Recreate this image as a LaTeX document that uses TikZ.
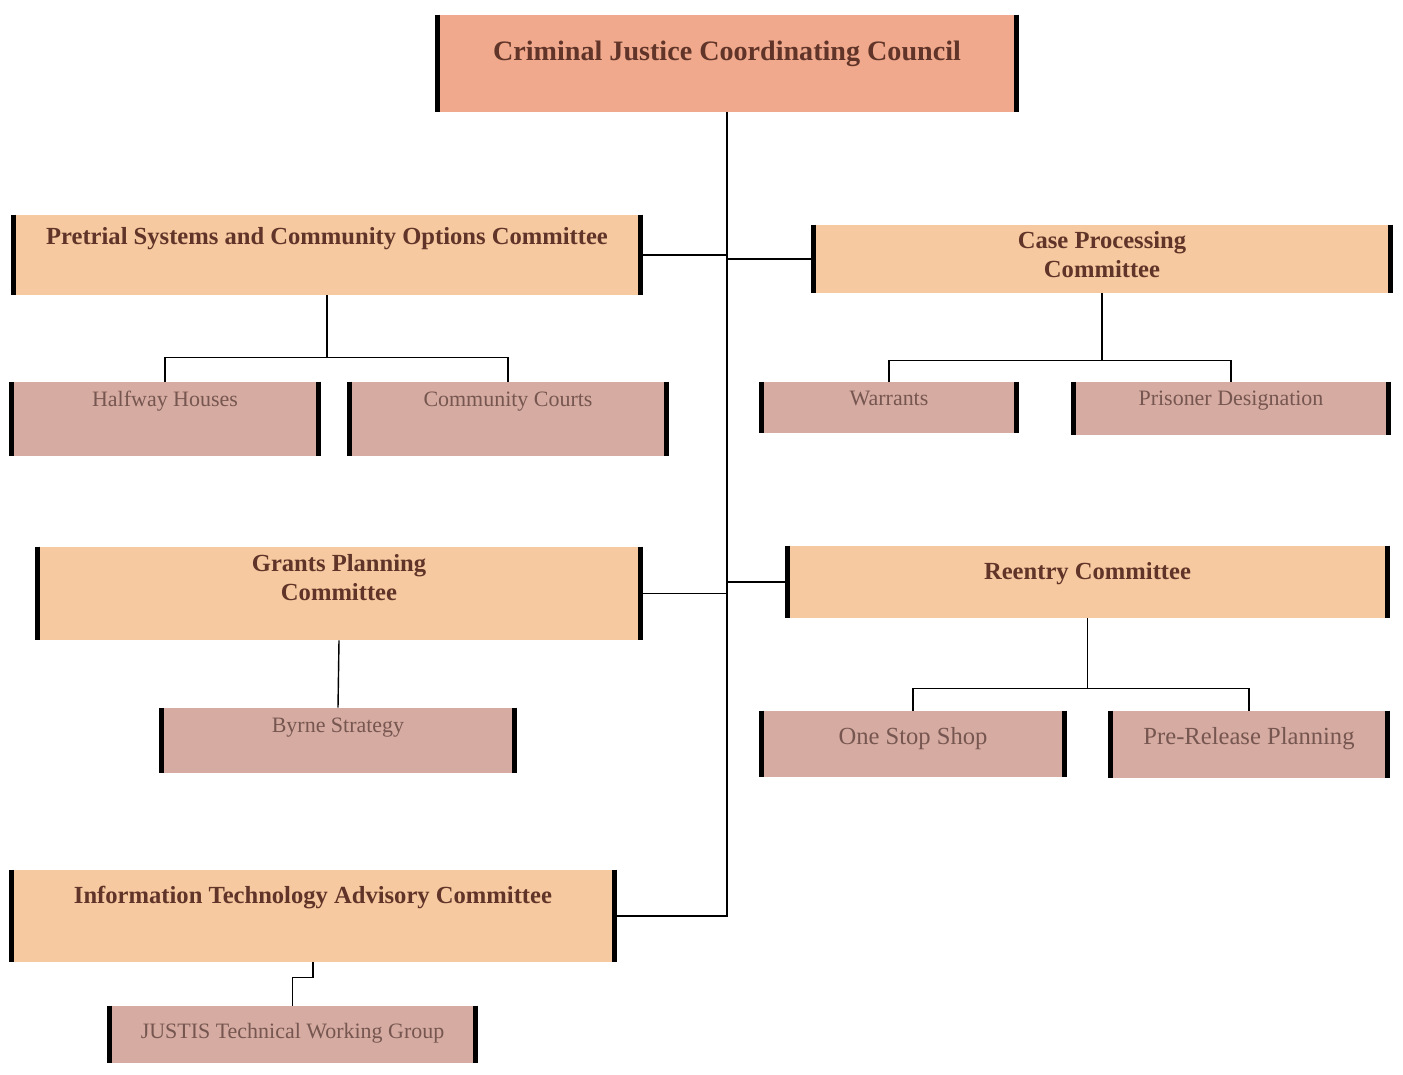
\documentclass[tikz,border=0pt]{standalone}
\usepackage{fontspec}
\setmainfont{Liberation Serif}
\usetikzlibrary{calc}
\definecolor{councilfill}{RGB}{240,169,140}
\definecolor{committeefill}{RGB}{246,201,160}
\definecolor{groupfill}{RGB}{214,171,161}
\definecolor{titletext}{RGB}{96,52,40}
\definecolor{grouptext}{RGB}{118,86,80}
\tikzstyle{council} = [rectangle, fill=councilfill, inner sep=0pt, text height=0.3cm, text=titletext, font=\fontsize{16}{19}\selectfont\bfseries, align=center]
\tikzstyle{committee} = [rectangle, fill=committeefill, inner sep=0pt, text height=0.3cm, text=titletext, font=\fontsize{14}{16}\selectfont\bfseries, align=center]
\tikzstyle{subgroup} = [rectangle, fill=groupfill, inner sep=0pt, text height=0.3cm, text=grouptext, font=\fontsize{12.5}{15}\selectfont, align=center]
\tikzstyle{link} = [line width=0.8pt, color=black]
\tikzstyle{bar} = [line width=2.6pt, color=black]

\begin{document}
\begin{tikzpicture}[x=0.02cm, y=-0.02cm]
    \useasboundingbox (0,0) rectangle (1403,1075);

    % top
    \node (cjcc) [council, minimum width=11.56cm, minimum height=1.94cm, text depth=0.44cm] at (727,63.5) {Criminal Justice Coordinating Council};

    % committees left
    \node (pretrial) [committee, minimum width=12.52cm, minimum height=1.6cm, text depth=0.74cm] at (327,255) {Pretrial Systems and Community Options Committee};
    \node (grants) [committee, minimum width=12.04cm, minimum height=1.86cm, text height=1cm, text depth=0.74cm] at (339,593.5) {Grants Planning\\Committee};
    \node (itac) [committee, minimum width=12.04cm, minimum height=1.84cm, text depth=0.82cm] at (313,916) {Information Technology Advisory Committee};

    % committees right
    \node (casep) [committee, minimum width=11.52cm, minimum height=1.36cm, text height=1cm, text depth=0.28cm] at (1102,259) {Case Processing\\Committee};
    \node (reentry) [committee, minimum width=11.98cm, minimum height=1.44cm, text depth=0.42cm] at (1087.5,582) {Reentry Committee};

    % working groups
    \node (halfway) [subgroup, minimum width=6.12cm, minimum height=1.48cm, text depth=0.8cm] at (165,419) {Halfway Houses};
    \node (courts) [subgroup, minimum width=6.32cm, minimum height=1.48cm, text depth=0.8cm] at (508,419) {Community Courts};
    \node (warrants) [subgroup, minimum width=5.08cm, minimum height=1.02cm, text depth=0.4cm] at (889,407.5) {Warrants};
    \node (prisoner) [subgroup, minimum width=6.28cm, minimum height=1.06cm, text depth=0.42cm] at (1231,408.5) {Prisoner Designation};
    \node (byrne) [subgroup, minimum width=7.04cm, minimum height=1.3cm, text depth=0.64cm] at (338,740.5) {Byrne Strategy};
    \node (onestop) [subgroup, minimum width=6.04cm, minimum height=1.32cm, text depth=0.28cm, font=\fontsize{14}{17}\selectfont] at (913,744) {One Stop Shop};
    \node (prerelease) [subgroup, minimum width=5.52cm, minimum height=1.34cm, text depth=0.32cm, font=\fontsize{14}{17}\selectfont] at (1249,744.5) {Pre-Release Planning};
    \node (justis) [subgroup, minimum width=7.3cm, minimum height=1.14cm, text depth=0.16cm] at (292.5,1034.5) {JUSTIS Technical Working Group};

    % side bars
    \foreach \n in {cjcc,pretrial,grants,itac,casep,reentry,halfway,courts,warrants,prisoner,byrne,onestop,prerelease,justis}
        \draw [bar] (\n.north west) -- (\n.south west) (\n.north east) -- (\n.south east);

    % spine
    \draw [link] (cjcc.south) |- (itac.east);
    \draw [link] (pretrial.east) -- (pretrial.east -| cjcc.south);
    \draw [link] (casep.west) -- (casep.west -| cjcc.south);
    \draw [link] (grants.east) -- (grants.east -| cjcc.south);
    \draw [link] (reentry.west) -- (reentry.west -| cjcc.south);

    % pretrial branch
    \draw [link] (pretrial.south) -- ([yshift=-1.24cm]pretrial.south) -| (halfway.north);
    \draw [link] ([yshift=-1.24cm]pretrial.south) -| (courts.north);

    % case processing branch
    \draw [link] (casep.south) -- ([yshift=-1.34cm]casep.south) -| (warrants.north);
    \draw [link] ([yshift=-1.34cm]casep.south) -| (prisoner.north);

    % grants branch
    \draw [link] (grants.south) -- (byrne.north);

    % reentry branch
    \draw [link] (reentry.south) -- ([yshift=-1.4cm]reentry.south) -| (onestop.north);
    \draw [link] ([yshift=-1.4cm]reentry.south) -| (prerelease.north);

    % it branch
    \draw [link] (itac.south) -- ([yshift=-0.3cm]itac.south) -| (justis.north);
\end{tikzpicture}
\end{document}
